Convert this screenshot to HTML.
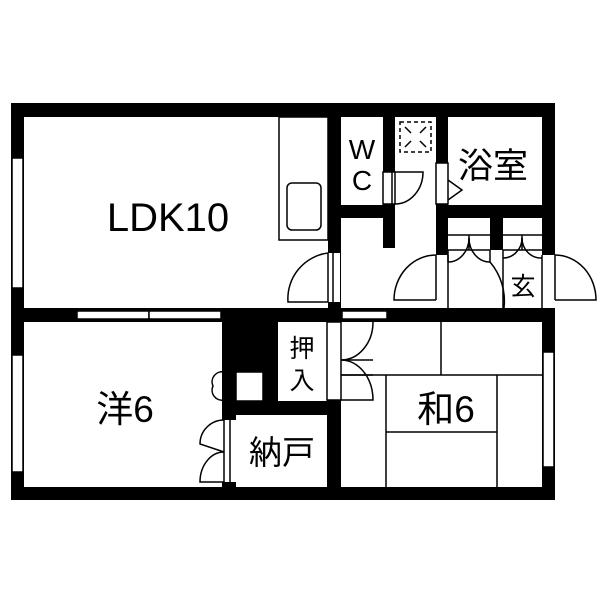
<!DOCTYPE html>
<html><head><meta charset="utf-8"><style>
html,body{margin:0;padding:0;background:#fff}
svg{display:block}
text{font-family:"Liberation Sans","Noto Sans CJK JP",sans-serif;fill:#000}
</style></head><body>
<svg width="600" height="600" viewBox="0 0 600 600" xmlns="http://www.w3.org/2000/svg">
<rect width="600" height="600" fill="#fff"/>
<g fill="#000">
<rect x="11" y="103" width="544" height="14"/>
<rect x="11" y="487" width="544" height="13"/>
<rect x="11" y="103" width="13" height="397"/>
<rect x="542" y="103" width="13" height="397"/>
<rect x="11" y="308" width="544" height="14"/>
<rect x="328" y="103" width="13" height="219"/>
<rect x="383" y="103" width="12" height="145"/>
<rect x="328" y="205" width="67" height="13"/>
<rect x="436" y="103" width="12" height="219"/>
<rect x="436" y="205" width="119" height="13"/>
<rect x="490" y="218" width="13" height="32"/>
<rect x="222" y="308" width="56" height="93"/>
<rect x="222" y="401" width="119" height="14"/>
<rect x="327" y="322" width="14" height="178"/>
<rect x="222" y="401" width="14" height="99"/>
</g>
<g fill="#fff" stroke="#000" stroke-width="1.5">
<rect x="12" y="158" width="11" height="130"/>
<rect x="12" y="355" width="11" height="117"/>
<rect x="543" y="352" width="11" height="115"/>
<rect x="77" y="311" width="72" height="8"/>
<rect x="149" y="311" width="72" height="8"/>
<rect x="342" y="311" width="45" height="8"/>
<rect x="328" y="253" width="12" height="49" stroke="none"/>
<rect x="436" y="163" width="12" height="41"/>
<rect x="383" y="172" width="12" height="32"/>
<rect x="436" y="255" width="12" height="53" stroke="none"/>
<rect x="542" y="255" width="13" height="53" stroke="none"/>
<rect x="327" y="322" width="14" height="78"/>
<rect x="236" y="372" width="27" height="29"/>
<rect x="222" y="420" width="14" height="62" stroke="none"/>
</g>
<g fill="none" stroke="#000" stroke-width="1.5">
<rect x="279" y="117" width="49" height="123"/>
<rect x="287" y="183" width="34" height="47" rx="5"/>
<line x1="328" y1="253" x2="328" y2="302"/><line x1="333" y1="253" x2="333" y2="302"/>
<path d="M328 253 A46 46 0 0 0 288 302 L328 302"/>
<line x1="392" y1="172" x2="392" y2="204"/>
<path d="M395 172 L423 172 A28 32 0 0 1 395 204"/>
<path d="M448 180 L462 190 L448 200"/>
<rect x="400" y="122" width="31" height="30" stroke-dasharray="4,3"/>
<line x1="405" y1="127" x2="411" y2="133"/><line x1="426" y1="127" x2="420" y2="133"/>
<line x1="405" y1="147" x2="411" y2="141"/><line x1="426" y1="147" x2="420" y2="141"/>
<line x1="448" y1="235" x2="490" y2="235"/><line x1="448" y1="250" x2="490" y2="250"/>
<line x1="503" y1="235" x2="542" y2="235"/><line x1="503" y1="250" x2="542" y2="250"/>
<line x1="469" y1="235" x2="469" y2="250"/><line x1="522" y1="235" x2="522" y2="250"/>
<path d="M469 238 A21 24 0 0 1 448 262"/><path d="M469 238 A21 24 0 0 0 490 262"/>
<path d="M522 238 A19 20 0 0 1 503 258"/><path d="M522 238 A19 20 0 0 0 542 258"/>
<line x1="448" y1="250" x2="448" y2="262"/><line x1="490" y1="250" x2="490" y2="262"/>
<line x1="503" y1="250" x2="503" y2="308"/>
<path d="M490 262 A60 60 0 0 1 504 308"/>
<line x1="436" y1="255" x2="436" y2="300"/><line x1="448" y1="255" x2="448" y2="308"/>
<path d="M436 255 A42 45 0 0 0 394 300 L436 300"/>
<line x1="542" y1="255" x2="542" y2="308"/><line x1="555" y1="255" x2="555" y2="300"/>
<path d="M555 255 A41 45 0 0 1 596 300 L555 300"/>
<line x1="341" y1="360" x2="373" y2="360"/>
<path d="M341 360 A32 38 0 0 0 373 322"/>
<path d="M341 360 A32 40 0 0 1 373 400 L341 400"/>
<line x1="341" y1="375" x2="373" y2="375"/>
<line x1="441" y1="322" x2="441" y2="375"/>
<line x1="341" y1="375" x2="542" y2="375"/>
<line x1="386" y1="375" x2="386" y2="487"/>
<line x1="497" y1="375" x2="497" y2="487"/>
<line x1="386" y1="432" x2="497" y2="432"/>
<line x1="224" y1="372" x2="236" y2="372"/><line x1="224" y1="386" x2="236" y2="386"/><line x1="224" y1="400" x2="236" y2="400"/>
<line x1="228" y1="372" x2="228" y2="400"/>
<path d="M224 372 A10 10 0 0 0 213 386 A10 10 0 0 0 224 400"/>
<line x1="224" y1="420" x2="224" y2="487"/><line x1="230" y1="420" x2="230" y2="487"/>
<path d="M224 420 A24 24 0 0 0 200 444 L224 452"/>
<path d="M224 452 A24 30 0 0 0 200 482 L224 482"/>
</g>
<text x="168" y="231" font-size="40" text-anchor="middle">LDK10</text>
<text x="125" y="422" font-size="37" text-anchor="middle">洋6</text>
<text x="446" y="422" font-size="37" text-anchor="middle">和6</text>
<text x="282" y="464" font-size="33" text-anchor="middle">納戸</text>
<text x="302" y="357" font-size="25" text-anchor="middle">押</text>
<text x="302" y="389" font-size="25" text-anchor="middle">入</text>
<text x="362" y="159" font-size="28" text-anchor="middle">W</text>
<text x="362" y="190" font-size="28" text-anchor="middle">C</text>
<text x="493" y="178" font-size="35" text-anchor="middle">浴室</text>
<text x="523" y="295" font-size="25" text-anchor="middle">玄</text>
</svg>
</body></html>
